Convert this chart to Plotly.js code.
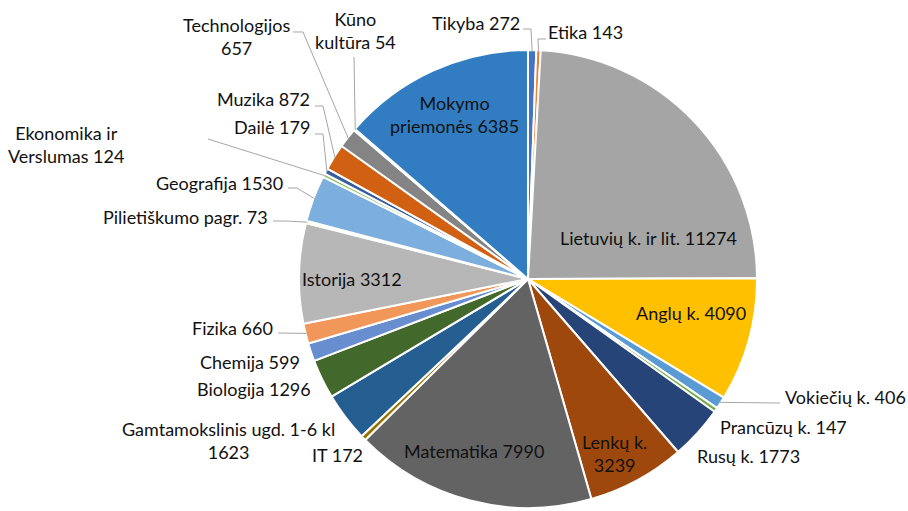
<!DOCTYPE html>
<html>
<head>
<meta charset="utf-8">
<script src="https://cdn.plot.ly/plotly-3.0.1.min.js"></script>
<style>
  html, body { margin: 0; padding: 0; background: #ffffff; }
  #chart { width: 908px; height: 511px; }
</style>
</head>
<body>
<div id="chart"></div>
<script>
// ---- DATA ----
const labels = [
  "Tikyba", "Etika", "Lietuvių k. ir lit.", "Anglų k.", "Vokiečių k.", "Prancūzų k.",
  "Rusų k.", "Lenkų k.", "Matematika", "IT", "Gamtamokslinis ugd. 1-6 kl", "Biologija",
  "Chemija", "Fizika", "Istorija", "Pilietiškumo pagr.", "Geografija", "Ekonomika ir Verslumas",
  "Dailė", "Muzika", "Technologijos", "Kūno kultūra", "Mokymo priemonės"
];
const values = [
  272, 143, 11274, 4090, 406, 147,
  1773, 3239, 7990, 172, 1623, 1296,
  599, 660, 3312, 73, 1530, 124,
  179, 872, 657, 54, 6385
];

// ---- STYLE ----
const colors = [
  "#4472C4", "#ED7D31", "#A5A5A5", "#FFC000", "#5B9BD5", "#70AD47",
  "#264478", "#9E480E", "#636363", "#997300", "#255E91", "#43682B",
  "#698ED0", "#F1975A", "#B7B7B7", "#FFCD33", "#7CAFDD", "#8CC168",
  "#3A5DA0", "#D26012", "#848484", "#CC9A00", "#327DC2"
];

// ---- LAYOUT (pixels in the 908x511 page) ----
const W = 908, H = 511;
const CX = 528, CY = 279, R = 229;
// label placement: anchor point, x anchor, words on first line (brk), leader end / elbow
const labelPlace = [
  {x: 476, y: 23,  xa: "center"},                                        // Tikyba
  {x: 585, y: 32,  xa: "center"},                                        // Etika
  {x: 648, y: 238, xa: "center"},                                        // Lietuvių
  {x: 691, y: 313, xa: "center"},                                        // Anglų
  {x: 783, y: 397, xa: "left",  lead: [780, 403]},                       // Vokiečių
  {x: 718, y: 427, xa: "left"},                                          // Prancūzų
  {x: 695, y: 456, xa: "left"},                                          // Rusų
  {x: 614, y: 453, xa: "center", brk: 2},                                // Lenkų
  {x: 474, y: 451, xa: "center"},                                        // Matematika
  {x: 310, y: 455, xa: "left"},                                          // IT
  {x: 228, y: 440, xa: "center", brk: 4},                                // Gamtamokslinis
  {x: 313, y: 389, xa: "right"},                                         // Biologija
  {x: 302, y: 362, xa: "right"},                                         // Chemija
  {x: 275, y: 328, xa: "right", lead: [278, 333]},                       // Fizika
  {x: 352, y: 279, xa: "center"},                                        // Istorija
  {x: 270, y: 217, xa: "right", lead: [273, 221], elbow: [285, 221]},    // Pilietiškumo
  {x: 285, y: 183, xa: "right", lead: [288, 188], elbow: [297, 188]},    // Geografija
  {x: 66,  y: 145, xa: "center", brk: 2, lead: [208, 139]},              // Ekonomika
  {x: 312, y: 127, xa: "right", lead: [315, 134], elbow: [323, 134]},    // Dailė
  {x: 312, y: 99,  xa: "right", lead: [315, 106], elbow: [323, 106]},    // Muzika
  {x: 236, y: 37,  xa: "center", brk: 1, lead: [293, 32], elbow: [303, 32]}, // Technologijos
  {x: 355, y: 30,  xa: "center", brk: 1, lead: [354, 57]},               // Kūno kultūra
  {x: 455, y: 114, xa: "center", brk: 1}                                 // Mokymo priemonės
];
// Tikyba and Etika leaders
labelPlace[0].lead = [523, 29]; labelPlace[0].elbow = [531, 29];
labelPlace[1].lead = [546, 39]; labelPlace[1].elbow = [538, 39];

const px = x => x / W;
const py = y => 1 - y / H;

const total = values.reduce((a, b) => a + b, 0);
let cum = 0;
const annotations = [];
const shapes = [];
labels.forEach((lab, i) => {
  const v = values[i];
  const mid = (cum + v / 2) / total;
  cum += v;
  const p = labelPlace[i];
  const words = (lab + " " + v).split(" ");
  let text = words.join(" ");
  if (p.brk) text = words.slice(0, p.brk).join(" ") + "<br>" + words.slice(p.brk).join(" ");
  annotations.push({
    x: px(p.x), y: py(p.y), xref: "paper", yref: "paper",
    xanchor: p.xa, yanchor: "middle", showarrow: false, align: "center",
    text: text,
    font: {family: "Lato, 'Open Sans', sans-serif", size: 18, color: "#111111"}
  });
  if (p.lead) {
    const ang = mid * 2 * Math.PI;
    const sx = CX + (R - 1) * Math.sin(ang);
    const sy = CY - (R - 1) * Math.cos(ang);
    const pts = [[sx, sy]];
    if (p.elbow) pts.push(p.elbow);
    pts.push(p.lead);
    const path = pts.map((q, k) => (k ? "L" : "M") + px(q[0]).toFixed(5) + "," + py(q[1]).toFixed(5)).join(" ");
    shapes.push({
      type: "path", xref: "paper", yref: "paper", path: path,
      line: {color: "#A6A6A6", width: 1}
    });
  }
});

const trace = {
  type: "pie",
  labels: labels,
  values: values,
  sort: false,
  direction: "clockwise",
  rotation: 0,
  textinfo: "none",
  hoverinfo: "label+value+percent",
  marker: {colors: colors, line: {color: "#ffffff", width: 2}},
  domain: {x: [px(CX - R), px(CX + R)], y: [py(CY + R), py(CY - R)]},
  showlegend: false
};

const layout = {
  width: W, height: H,
  margin: {l: 0, r: 0, t: 0, b: 0},
  paper_bgcolor: "#ffffff",
  showlegend: false,
  annotations: annotations,
  shapes: shapes
};

Plotly.newPlot("chart", [trace], layout, {displayModeBar: false, staticPlot: true});
</script>
</body>
</html>
